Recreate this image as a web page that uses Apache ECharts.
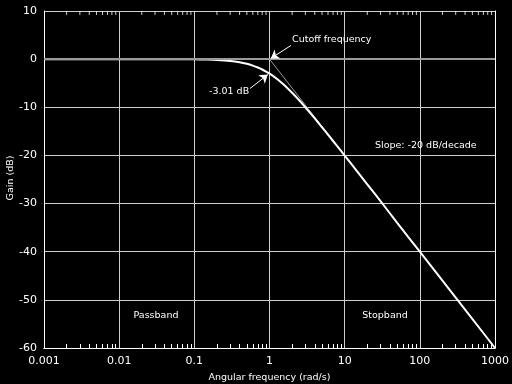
<!DOCTYPE html>
<html><head><meta charset="utf-8">
<script src="https://cdn.jsdelivr.net/npm/echarts@6/dist/echarts.min.js"></script>
<style>html,body{margin:0;padding:0;background:#000}#c{width:512px;height:384px}</style>
</head><body><div id="c"></div><script>
// Angular frequency (rad/s) and gain (dB)
const frequency = [0.001, 0.01, 0.05, 0.1, 0.15, 0.2, 0.3, 0.4, 0.5, 0.6, 0.7, 0.8, 0.9, 1, 1.1, 1.25, 1.5, 1.75, 2, 2.5, 3, 4, 5, 6, 8, 10, 15, 20, 30, 50, 100, 1000];
const gainDb = [0, 0, -0.01, -0.04, -0.1, -0.17, -0.37, -0.64, -0.97, -1.34, -1.73, -2.15, -2.58, -3.01, -3.42, -4.08, -5.12, -6.1, -6.99, -8.6, -10.0, -12.3, -14.15, -15.7, -18.1, -20.04, -23.5, -26.0, -29.5, -34.0, -40.0, -60.0];
// asymptotes
const asymptoteFreq = [0.001, 1, 1000];
const asymptoteDb = [0, 0, -60];
// ticks
const xTickValues = [0.001, 0.01, 0.1, 1, 10, 100, 1000];
const xTickLabels = ['0.001', '0.01', '0.1', '1', '10', '100', '1000'];
const minorMultipliers = [2, 3, 4, 5, 6, 7, 8, 9];
const yMin = -60, yMax = 10, yStep = 10;
// annotations
const cutoffFreq = 1, cutoffGain = 0;
const halfPowerFreq = 1, halfPowerGain = -3.01;

const minorTicks = [];
xTickValues.slice(0, -1).forEach(d => minorMultipliers.forEach(m => minorTicks.push(+(d * m).toPrecision(3))));

const FONT = 'DejaVu Sans';
const chart = echarts.init(document.getElementById('c'), null, {renderer: 'canvas'});
const gridRect = {left: 44, right: 17, top: 11, bottom: 36, containLabel: false, outerBoundsMode: 'none'};
const xBase = {
  type: 'log', logBase: 10, min: 0.001, max: 1000,
  axisLine: {show: true, onZero: false, lineStyle: {color: '#fff', width: 1}},
  axisTick: {show: false},
  axisLabel: {show: false},
  splitLine: {show: false},
  minorTick: {show: false}
};
const curve = frequency.map((f, i) => [f, gainDb[i]]);
const asym = asymptoteFreq.map((f, i) => [f, asymptoteDb[i]]);
const topTicks = minorTicks.map(v => [v, yMax]);
const txt = (x, y, s, extra) => ({type: 'text', x, y, silent: true, z: 100,
  style: Object.assign({text: s, fill: '#fff', font: '9.5px ' + FONT, textVerticalAlign: 'middle'}, extra || {})});

chart.setOption({
  animation: false,
  backgroundColor: '#000',
  grid: [gridRect, Object.assign({}, gridRect)],
  xAxis: [
    Object.assign({}, xBase, {
      gridIndex: 0, position: 'bottom',
      axisLabel: {show: true, color: '#fff', fontFamily: FONT, fontSize: 11, margin: 8,
        formatter: v => xTickLabels[Math.round(Math.log10(v)) + 3]},
      splitLine: {show: true, lineStyle: {color: '#cfcfcf', width: 1}},
      name: 'Angular frequency (rad/s)', nameLocation: 'middle', nameGap: 25,
      nameTextStyle: {color: '#fff', fontFamily: FONT, fontSize: 9.5}
    }),
    Object.assign({}, xBase, {
      position: 'bottom', gridIndex: 1,
      axisTick: {show: true, inside: true, length: 4, customValues: minorTicks, lineStyle: {color: '#fff'}}
    })
  ],
  yAxis: [
    {type: 'value', gridIndex: 0, min: yMin, max: yMax, interval: yStep, position: 'left',
      axisLine: {show: true, onZero: false, lineStyle: {color: '#fff'}},
      axisTick: {show: false},
      axisLabel: {color: '#fff', fontFamily: FONT, fontSize: 11, margin: 7},
      splitLine: {show: true, lineStyle: {color: '#cfcfcf', width: 1}}},
    {type: 'value', gridIndex: 1, min: yMin, max: yMax, interval: yStep, position: 'right',
      axisLine: {show: true, onZero: false, lineStyle: {color: '#fff'}},
      axisTick: {show: false}, axisLabel: {show: false}, splitLine: {show: false}}
  ],
  series: [
    {type: 'line', name: 'asymptote', data: asym, symbol: 'none', z: 2,
      lineStyle: {color: '#9a9a9a', width: 1},
      markLine: {silent: true, symbol: 'none', label: {show: false},
        lineStyle: {color: '#9a9a9a', width: 2, type: 'solid'},
        data: [{yAxis: 0}]}},
    {type: 'line', name: 'gain', data: curve, symbol: 'none', smooth: 0.2, z: 3,
      lineStyle: {color: '#fff', width: 2},
      markLine: {silent: true, label: {show: false}, symbolSize: 8,
        lineStyle: {color: '#fff', width: 1, type: 'solid'},
        data: [
          [{coord: [1.93, 2.84], symbol: 'none'}, {coord: [cutoffFreq * 1.04, cutoffGain + 0.15], symbol: 'arrow'}],
          [{coord: [0.55, -6.1], symbol: 'none'}, {coord: [halfPowerFreq * 0.95, halfPowerGain - 0.2], symbol: 'arrow'}]
        ]}},
    {type: 'scatter', name: 'top ticks', data: topTicks, symbol: 'rect', symbolSize: [1, 4],
      symbolOffset: [0, 2], clip: false, silent: true, z: 4,
      itemStyle: {color: '#fff'}}
  ],
  graphic: [
    txt(292, 40, 'Cutoff frequency'),
    txt(209, 92, '-3.01 dB'),
    txt(375, 146, 'Slope: -20 dB/decade'),
    txt(156, 316, 'Passband', {textAlign: 'center'}),
    txt(385, 316, 'Stopband', {textAlign: 'center'}),
    {type: 'text', x: 11, y: 178, rotation: Math.PI / 2, silent: true, z: 100,
      style: {text: 'Gain (dB)', fill: '#fff', font: '9.5px ' + FONT, textAlign: 'center', textVerticalAlign: 'middle'}}
  ]
});
</script></body></html>
